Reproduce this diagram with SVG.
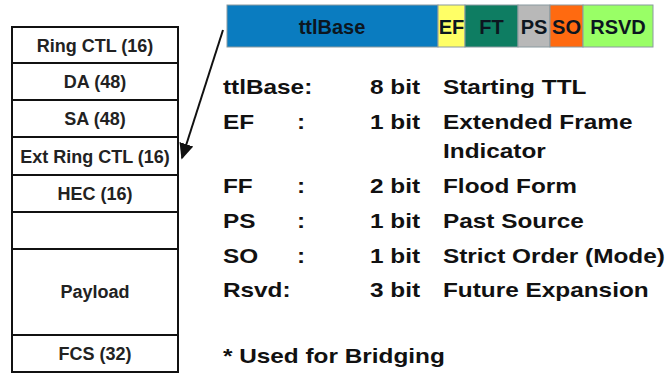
<svg xmlns="http://www.w3.org/2000/svg" width="670" height="377" viewBox="0 0 670 377">
<defs>
<style>
.cell{fill:#fff;stroke:#111;stroke-width:2}
.ct{font-family:"Liberation Sans",Arial,sans-serif;font-weight:bold;font-size:18px;fill:#222;text-anchor:middle}
.seg{stroke:#8a9aa0;stroke-width:1}
.bt{font-family:"Liberation Sans",Arial,sans-serif;font-weight:bold;font-size:20px;fill:#0c1620;text-anchor:middle}
.tt{font-family:"Liberation Sans",Arial,sans-serif;font-weight:bold;font-size:21px;fill:#111}
</style>
<marker id="ah" viewBox="0 0 10 10" refX="9" refY="5" markerWidth="8" markerHeight="8" orient="auto" markerUnits="strokeWidth">
<path d="M0,0.5 L10,5 L0,9.5 z" fill="#111"/>
</marker>
</defs>
<rect width="670" height="377" fill="#fff"/>
<g id="stack">
<g id="ringctl"><rect class="cell" x="12" y="27" width="166" height="36"/><text class="ct" x="95" y="52">Ring CTL (16)</text></g>
<g id="da"><rect class="cell" x="12" y="63" width="166" height="37"/><text class="ct" x="95" y="88">DA (48)</text></g>
<g id="sa"><rect class="cell" x="12" y="100" width="166" height="37"/><text class="ct" x="95" y="125">SA (48)</text></g>
<g id="extringctl"><rect class="cell" x="12" y="137" width="166" height="38"/><text class="ct" x="95" y="163">Ext Ring CTL (16)</text></g>
<g id="hec"><rect class="cell" x="12" y="175" width="166" height="37"/><text class="ct" x="95" y="200">HEC (16)</text></g>
<g id="blank"><rect class="cell" x="12" y="212" width="166" height="37"/></g>
<g id="payload"><rect class="cell" x="12" y="249" width="166" height="86"/><text class="ct" x="95" y="298">Payload</text></g>
<g id="fcs"><rect class="cell" x="12" y="335" width="166" height="37"/><text class="ct" x="95" y="360">FCS (32)</text></g>
</g>
<g id="bar">
<g id="b-ttl"><rect class="seg" x="227" y="5" width="211" height="42" fill="#0a7cc0"/><text class="bt" x="332" y="34">ttlBase</text></g>
<g id="b-ef"><rect class="seg" x="438" y="5" width="27" height="42" fill="#ffff66"/><text class="bt" x="451.5" y="34">EF</text></g>
<g id="b-ft"><rect class="seg" x="465" y="5" width="53" height="42" fill="#0e7d62"/><text class="bt" x="491.5" y="34">FT</text></g>
<g id="b-ps"><rect class="seg" x="518" y="5" width="32" height="42" fill="#b8b8b8"/><text class="bt" x="534" y="34">PS</text></g>
<g id="b-so"><rect class="seg" x="550" y="5" width="33" height="42" fill="#ff6a10"/><text class="bt" x="566.5" y="34">SO</text></g>
<g id="b-rsvd"><rect class="seg" x="583" y="5" width="70" height="42" fill="#99ff66"/><text class="bt" x="618" y="34">RSVD</text></g>
</g>
<g id="connectors">
<line x1="223" y1="30" x2="182" y2="158" stroke="#111" stroke-width="2" marker-end="url(#ah)"/>
</g>
<g id="table" transform="scale(1.16,1)">
<text class="tt" x="192.2" y="94">ttlBase:</text><text class="tt" x="319" y="94">8 bit</text><text class="tt" x="381.9" y="94">Starting TTL</text>
<text class="tt" x="192.2" y="129">EF</text><text class="tt" x="256" y="129">:</text><text class="tt" x="319" y="129">1 bit</text><text class="tt" x="381.9" y="129">Extended Frame</text>
<text class="tt" x="381.9" y="158">Indicator</text>
<text class="tt" x="192.2" y="193">FF</text><text class="tt" x="256" y="193">:</text><text class="tt" x="319" y="193">2 bit</text><text class="tt" x="381.9" y="193">Flood Form</text>
<text class="tt" x="192.2" y="228">PS</text><text class="tt" x="256" y="228">:</text><text class="tt" x="319" y="228">1 bit</text><text class="tt" x="381.9" y="228">Past Source</text>
<text class="tt" x="192.2" y="263">SO</text><text class="tt" x="256" y="263">:</text><text class="tt" x="319" y="263">1 bit</text><text class="tt" x="381.9" y="263">Strict Order (Mode)</text>
<text class="tt" x="192.2" y="297">Rsvd:</text><text class="tt" x="319" y="297">3 bit</text><text class="tt" x="381.9" y="297">Future Expansion</text>
<text class="tt" x="192.2" y="363">* Used for Bridging</text>
</g>
</svg>
